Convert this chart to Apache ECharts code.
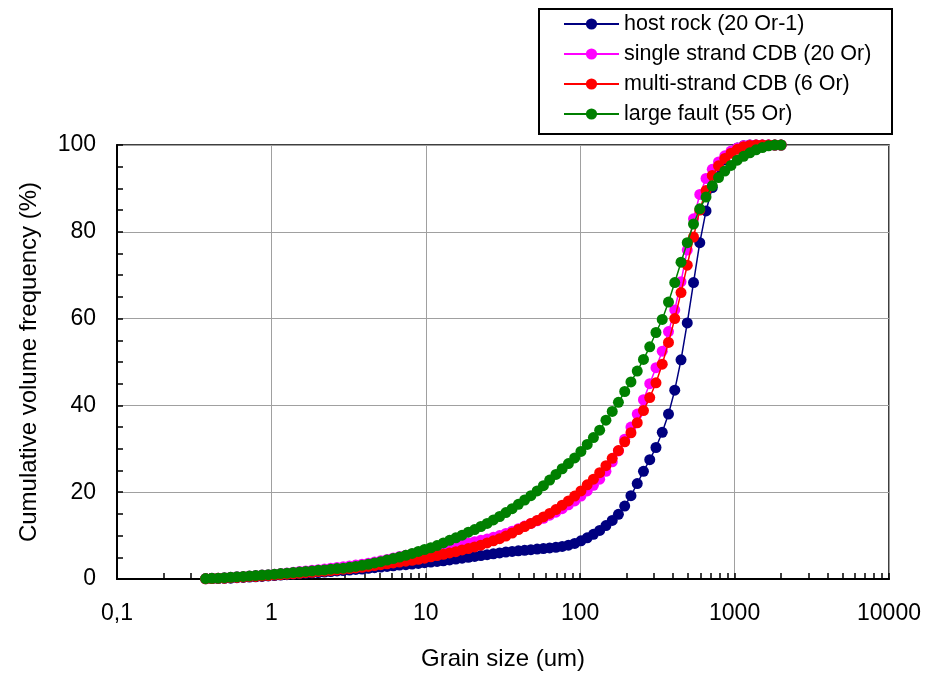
<!DOCTYPE html>
<html>
<head>
<meta charset="utf-8">
<script src="https://cdn.jsdelivr.net/npm/echarts@6/dist/echarts.min.js"></script>
<style>
html,body{margin:0;padding:0;background:#fff;}
#chart{width:929px;height:676px;}
</style>
</head>
<body>
<div id="chart"></div>
<script>
// Grain size bins (um)
var grainSizes = [0.375,0.412,0.452,0.496,0.545,0.598,0.657,0.721,0.791,0.869,
0.954,1.047,1.149,1.261,1.385,1.520,1.669,1.832,2.011,2.208,
2.423,2.660,2.920,3.206,3.519,3.862,4.241,4.656,5.111,5.611,
6.158,6.761,7.421,8.147,8.944,9.819,10.78,11.83,12.99,14.26,
15.65,17.18,18.86,20.71,22.73,24.95,27.39,30.07,33.01,36.24,
39.78,43.67,47.94,52.62,57.77,63.41,69.61,76.42,83.89,92.09,
101.1,111.0,121.8,133.7,146.8,161.2,176.8,194.2,213.2,234.1,
256.9,282.1,309.6,339.9,373.1,409.6,449.7,493.6,541.9,594.9,
653.0,716.8,786.9,863.9,948.2,1041,1143,1255,1377,1512,
1660,1822,2000];

var seriesNames = ['host rock (20 Or-1)','single strand CDB (20 Or)','multi-strand CDB (6 Or)','large fault (55 Or)'];

var hostRock = [0.05,0.1,0.1,0.15,0.2,0.3,0.35,0.45,0.5,0.6,
0.7,0.8,0.9,1.0,1.1,1.2,1.3,1.4,1.5,1.6,
1.7,1.85,1.95,2.05,2.2,2.3,2.45,2.6,2.75,2.9,
3.05,3.2,3.3,3.45,3.6,3.75,3.9,4.05,4.2,4.4,
4.6,4.8,5.0,5.2,5.4,5.6,5.8,6.0,6.2,6.35,
6.5,6.6,6.75,6.9,7.0,7.15,7.3,7.5,7.8,8.2,
8.8,9.5,10.3,11.2,12.3,13.5,14.9,16.8,19.2,22.0,
24.8,27.5,30.3,33.8,38.0,43.5,50.5,59.0,68.3,77.5,
84.8,90.2,94.0,96.6,98.3,99.3,99.8,100,100,100,
100,100,100];

var singleStrand = [0.1,0.15,0.2,0.3,0.4,0.5,0.6,0.7,0.8,0.9,
1.0,1.1,1.25,1.4,1.55,1.7,1.85,2.0,2.15,2.3,
2.5,2.65,2.8,3.0,3.2,3.4,3.65,3.9,4.2,4.5,
4.85,5.2,5.5,5.75,6.0,6.25,6.5,6.8,7.1,7.4,
7.7,8.0,8.3,8.6,8.9,9.2,9.6,10.0,10.5,11.0,
11.6,12.2,12.8,13.4,14.0,14.7,15.4,16.2,17.1,18.0,
19.1,20.3,21.6,23.0,24.8,27.0,29.5,32.2,35.0,38.0,
41.3,45.0,48.7,52.5,57.0,62.0,68.5,75.8,83.0,88.6,
92.3,94.4,96.1,97.5,98.6,99.3,99.8,100,100,100,
100,100,100];

var multiStrand = [0.05,0.1,0.15,0.2,0.3,0.35,0.45,0.55,0.6,0.7,
0.8,0.9,1.0,1.1,1.2,1.3,1.45,1.55,1.7,1.8,
1.95,2.1,2.25,2.4,2.55,2.7,2.9,3.1,3.3,3.5,
3.7,3.9,4.1,4.3,4.55,4.8,5.1,5.4,5.7,6.0,
6.3,6.7,7.0,7.4,7.8,8.3,8.8,9.3,9.9,10.6,
11.4,12.1,12.8,13.5,14.3,15.1,16.0,17.0,18.0,19.1,
20.3,21.7,23.0,24.5,26.1,27.8,29.6,31.6,33.7,36.0,
38.8,41.8,45.2,49.5,54.5,60.0,66.0,72.3,78.8,85.0,
89.5,93.0,95.2,96.9,98.1,99.0,99.6,99.9,100,100,
100,100,100];

var largeFault = [0.1,0.15,0.2,0.3,0.4,0.5,0.6,0.7,0.8,0.9,
1.0,1.1,1.25,1.35,1.5,1.6,1.75,1.85,2.0,2.1,
2.25,2.4,2.5,2.7,2.9,3.15,3.4,3.7,4.0,4.35,
4.7,5.05,5.45,5.9,6.35,6.8,7.2,7.7,8.3,8.9,
9.5,10.1,10.8,11.4,12.1,12.8,13.6,14.4,15.3,16.2,
17.2,18.2,19.2,20.3,21.5,22.8,24.1,25.4,26.6,27.9,
29.4,31.0,32.6,34.3,36.6,38.6,40.7,43.2,45.4,47.9,
50.6,53.5,56.8,59.8,63.8,68.3,73.0,77.5,81.8,85.3,
88.0,90.6,92.5,94.0,95.3,96.5,97.4,98.2,98.9,99.4,
99.8,100,100];

var seriesColors = ['#000080','#FF00FF','#FF0000','#008000'];
var seriesValues = [hostRock, singleStrand, multiStrand, largeFault];

// tick positions on the log axis (decade multiples 1..9), in log10 units
var minorTickMultipliers = [1,2,3,4,5,6,7,8,9];
var decades = [0.1,1,10,100,1000];
var minorTickLogValues = [];
decades.forEach(function(d){
  minorTickMultipliers.forEach(function(m){
    minorTickLogValues.push(Math.log10(d*m));
  });
});
minorTickLogValues.push(4);

var FONT = 'Liberation Sans, Arial, sans-serif';

var series = seriesNames.map(function(name, i){
  return {
    name: name,
    type: 'line',
    xAxisIndex: 0,
    data: grainSizes.map(function(g, j){ return [g, seriesValues[i][j]]; }),
    symbol: 'circle',
    symbolSize: 11,
    showAllSymbol: true,
    lineStyle: {color: seriesColors[i], width: 1.5},
    itemStyle: {color: seriesColors[i], borderWidth: 0},
    emphasis: {disabled: true},
    z: 2 + i
  };
});

var chart = echarts.init(document.getElementById('chart'), null, {renderer: 'canvas'});
chart.setOption({
  animation: false,
  backgroundColor: '#ffffff',
  textStyle: {fontFamily: FONT},
  grid: {left: 117, right: 40, top: 145, bottom: 97, show: true, borderColor: '#000', borderWidth: 1.5, backgroundColor: 'transparent'},
  graphic: [{
    type: 'rect', left: 538, top: 8, z: 0,
    shape: {width: 353, height: 125},
    style: {fill: '#fff', stroke: '#000', lineWidth: 2}
  }],
  legend: {
    orient: 'vertical', left: 563, top: 13,
    itemWidth: 55, itemHeight: 14, itemGap: 8, itemTextGap: 5,
    padding: 0,
    textStyle: {fontFamily: FONT, fontSize: 21.5, lineHeight: 21, color: '#000'},
    data: seriesNames
  },
  xAxis: [{
    type: 'log', logBase: 10, min: 0.1, max: 10000,
    name: 'Grain size (um)', nameLocation: 'middle', nameGap: 68,
    nameTextStyle: {fontFamily: FONT, fontSize: 24, color: '#000'},
    axisLine: {show: true, onZero: false, lineStyle: {color: '#000', width: 2}},
    axisTick: {show: false},
    axisLabel: {fontFamily: FONT, fontSize: 23, color: '#000', margin: 23,
      formatter: function(v){ return String(v).replace('.', ','); }},
    splitLine: {show: true, lineStyle: {color: '#a0a0a0', width: 1}}
  }, {
    type: 'value', min: -1, max: 4, position: 'bottom',
    axisLine: {show: false, onZero: false},
    axisLabel: {show: false},
    splitLine: {show: false},
    axisTick: {show: true, inside: true, length: 6, customValues: minorTickLogValues, lineStyle: {color: '#000', width: 1.5}}
  }],
  yAxis: {
    type: 'value', min: 0, max: 100, interval: 20,
    name: 'Cumulative volume frequency (%)', nameLocation: 'middle', nameGap: 76,
    nameTextStyle: {fontFamily: FONT, fontSize: 24, color: '#000'},
    axisLine: {show: true, onZero: false, lineStyle: {color: '#000', width: 2}},
    axisTick: {show: true, inside: true, length: 6, lineStyle: {color: '#000', width: 1.5}},
    minorTick: {show: true, splitNumber: 4, length: 6, lineStyle: {color: '#000', width: 1.5}},
    axisLabel: {fontFamily: FONT, fontSize: 23, color: '#000', margin: 21},
    splitLine: {show: true, lineStyle: {color: '#a0a0a0', width: 1}}
  },
  series: series
});
</script>
</body>
</html>
